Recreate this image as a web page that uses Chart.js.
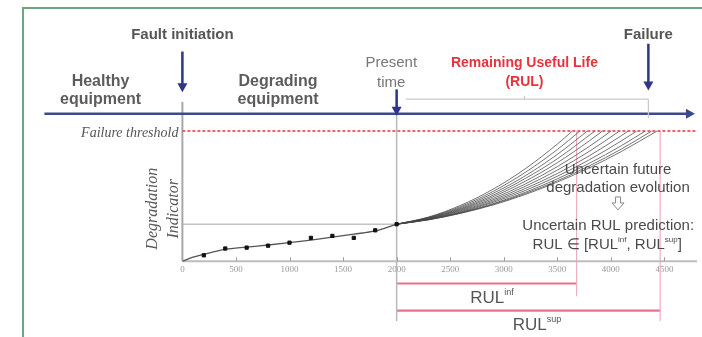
<!DOCTYPE html>
<html>
<head>
<meta charset="utf-8">
<script src="https://cdn.jsdelivr.net/npm/chart.js@4.4.0/dist/chart.umd.min.js"></script>
<style>
  html, body { margin: 0; padding: 0; background: #fff; }
  #wrap { position: relative; width: 702px; height: 337px; }
  #frame { position: absolute; left: 22px; top: 7px; right: 0; bottom: 0;
           border-left: 2px solid #6ea77c; border-top: 2px solid #6ea77c; pointer-events: none; }
</style>
</head>
<body>
<div id="wrap"><canvas id="myChart" width="702" height="337"></canvas><div id="frame"></div></div>
<script>
// Observed degradation indicator (black squares)
var obsTime  = [200, 400, 600, 800, 1000, 1200, 1400, 1600, 1800, 2000];
var obsValue = [0.45, 0.97, 1.04, 1.19, 1.42, 1.79, 1.94, 1.79, 2.37, 2.84];

// Fitted trend up to present time
var fitTime  = [0, 100, 200, 400, 600, 800, 1000, 1200, 1400, 1600, 1800, 2000];
var fitValue = [0, 0.30, 0.52, 0.90, 1.08, 1.24, 1.42, 1.62, 1.85, 2.08, 2.32, 2.84];

// Predicted future trajectories (fan) : values at fanTime, then they hit the threshold at fanEnd
var fanTime = [2000, 2300, 2600, 2900, 3200, 3500, 3800, 4100];
var fanEnd  = [3640, 3710, 3780, 3850, 3920, 4000, 4080, 4160, 4240, 4320, 4380, 4430];
var fanValues = [
  [2.84, 3.40, 4.30, 5.53, 7.10, 9.00],
  [2.84, 3.37, 4.21, 5.36, 6.82, 8.58],
  [2.84, 3.35, 4.13, 5.21, 6.56, 8.21],
  [2.84, 3.32, 4.06, 5.07, 6.35, 7.87],
  [2.84, 3.30, 4.00, 4.95, 6.14, 7.57, 9.26],
  [2.84, 3.28, 3.94, 4.82, 5.93, 7.27, 8.83],
  [2.84, 3.25, 3.88, 4.71, 5.75, 7.00, 8.45],
  [2.84, 3.23, 3.82, 4.61, 5.58, 6.74, 8.11, 9.66],
  [2.84, 3.22, 3.77, 4.52, 5.43, 6.53, 7.80, 9.26],
  [2.84, 3.20, 3.73, 4.42, 5.29, 6.33, 7.53, 8.89],
  [2.84, 3.19, 3.70, 4.37, 5.20, 6.18, 7.33, 8.63],
  [2.84, 3.18, 3.68, 4.32, 5.12, 6.08, 7.18, 8.44]
];

// Key times / levels
var threshold = 10;
var faultTime = 0;
var presentTime = 2000;
var presentValue = 2.84;
var failureTime = 4350;
var rulInf = 3680;
var rulSup = 4460;

// x axis tick labels
var tickValues = [0, 500, 1000, 1500, 2000, 2500, 3000, 3500, 4000, 4500];

var SANS = '"Liberation Sans", Arial, sans-serif';
var SERIF = '"Liberation Serif", "Times New Roman", serif';
var NAVY = '#2f3586';
var RED_LINE = '#e8728c';

function seg(x1, y1, x2, y2) { return [{ x: x1, y: y1 }, { x: x2, y: y2 }]; }

function lineSet(data, color, width, dash) {
  return { type: 'line', data: data, borderColor: color, borderWidth: width,
           borderDash: dash || [], pointRadius: 0, fill: false, tension: 0 };
}

// Chart.js paints dataset 0 last, so the list goes from front to back
var datasets = [];

// observations
datasets.push({ type: 'scatter', data: obsTime.map(function (t, i) { return { x: t, y: obsValue[i] }; }),
                backgroundColor: '#111', borderColor: '#111', pointStyle: 'rect', pointRadius: 2.3 });

// failure threshold
datasets.push(lineSet(seg(faultTime, threshold, 4805, threshold), '#e2363a', 1.5, [3, 2]));

// fitted trend
datasets.push({ type: 'line', data: fitTime.map(function (t, i) { return { x: t, y: fitValue[i] }; }),
                borderColor: '#555', borderWidth: 1.3, pointRadius: 0, fill: false,
                cubicInterpolationMode: 'monotone' });

// fan of future trajectories
fanValues.forEach(function (vals, i) {
  var pts = vals.map(function (v, j) { return { x: fanTime[j], y: v }; });
  pts.push({ x: fanEnd[i], y: threshold });
  datasets.push({ type: 'line', data: pts, borderColor: 'rgba(70,70,70,0.75)', borderWidth: 1,
                  pointRadius: 0, fill: false, cubicInterpolationMode: 'monotone' });
});

// reference lines
datasets.push(lineSet(seg(faultTime, 0, faultTime, 12.25), '#a8a8a8', 2));        // indicator axis
datasets.push(lineSet(seg(faultTime, 0, 4805, 0), '#bdbdbd', 2));                  // time axis
datasets.push(lineSet(seg(faultTime, presentValue, presentTime, presentValue), '#c4c4c4', 1.5));
datasets.push(lineSet(seg(presentTime, 12.6, presentTime, -4.6), '#b8b8b8', 1.5)); // present time
datasets.push(lineSet(seg(rulInf, threshold, rulInf, -2.7), '#eeb0bd', 1.2));
datasets.push(lineSet(seg(rulSup, threshold, rulSup, -4.6), '#eeb0bd', 1.2));
datasets.push(lineSet(seg(presentTime, -1.72, rulInf, -1.72), RED_LINE, 2.2));
datasets.push(lineSet(seg(presentTime, -3.81, rulSup, -3.81), RED_LINE, 2.2));

// text, arrows and brackets
var annotations = {
  id: 'annotations',
  afterDraw: function (chart) {
    var c = chart.ctx, sx = chart.scales.x, sy = chart.scales.y;
    function X(v) { return sx.getPixelForValue(v); }
    function Y(v) { return sy.getPixelForValue(v); }

    function text(str, xv, yv, font, color, align) {
      c.save();
      c.font = font; c.fillStyle = color; c.textAlign = align || 'center'; c.textBaseline = 'middle';
      c.fillText(str, X(xv), Y(yv));
      c.restore();
    }
    // pieces: [text, font, color, raise]
    function rich(pieces, xv, yv, align) {
      c.save();
      c.textBaseline = 'middle';
      var w = 0;
      pieces.forEach(function (p) { c.font = p[1]; w += c.measureText(p[0]).width; });
      var x = X(xv);
      if (align === 'center') x -= w / 2;
      pieces.forEach(function (p) {
        c.font = p[1]; c.fillStyle = p[2]; c.textAlign = 'left';
        c.fillText(p[0], x, Y(yv) - (p[3] || 0));
        x += c.measureText(p[0]).width;
      });
      c.restore();
    }
    function downArrow(xv, y1, y2) {
      var x = X(xv), a = Y(y1), b = Y(y2);
      c.save();
      c.strokeStyle = NAVY; c.fillStyle = NAVY; c.lineWidth = 2.5;
      c.beginPath(); c.moveTo(x, a); c.lineTo(x, b - 7); c.stroke();
      c.beginPath(); c.moveTo(x - 5, b - 9); c.lineTo(x + 5, b - 9); c.lineTo(x, b); c.closePath(); c.fill();
      c.restore();
    }

    // upward tick marks on time axis
    c.save();
    c.strokeStyle = '#a0a0a0'; c.lineWidth = 1;
    sx.ticks.forEach(function (t) {
      var x = Math.round(X(t.value)) + 0.5;
      c.beginPath(); c.moveTo(x, Y(0)); c.lineTo(x, Y(0) - 4); c.stroke();
    });
    c.restore();

    // timeline arrow
    c.save();
    c.strokeStyle = '#3c4a8c'; c.fillStyle = '#3c4a8c'; c.lineWidth = 2.6;
    var ty = Y(11.34), tx0 = X(-1288), tx1 = X(4785);
    c.beginPath(); c.moveTo(tx0, ty); c.lineTo(tx1 - 6, ty); c.stroke();
    c.beginPath(); c.moveTo(tx1, ty); c.lineTo(tx1 - 9, ty - 5); c.lineTo(tx1 - 9, ty + 5); c.closePath(); c.fill();
    c.restore();

    downArrow(faultTime, 16.12, 12.99);
    downArrow(presentTime, 13.21, 11.19);
    downArrow(failureTime, 16.72, 13.13);

    // RUL bracket
    c.save();
    c.strokeStyle = '#c9c9c9'; c.lineWidth = 1.2;
    var by = Y(12.46), bx0 = X(2085), bx1 = X(failureTime), bm = X(3193);
    c.beginPath(); c.moveTo(bx0, by); c.lineTo(bx1, by); c.stroke();
    c.beginPath(); c.moveTo(bm, by); c.lineTo(bm, by - 3); c.stroke();
    c.beginPath(); c.moveTo(bx1, by); c.lineTo(bx1, Y(11.0)); c.stroke();
    c.restore();

    // hollow arrow
    c.save();
    var hx = X(4067), hy = Y(4.4);
    c.strokeStyle = '#8a8a8a'; c.lineWidth = 1;
    c.beginPath();
    c.moveTo(hx - 2.5, hy - 7); c.lineTo(hx + 2.5, hy - 7); c.lineTo(hx + 2.5, hy - 1);
    c.lineTo(hx + 6, hy - 1); c.lineTo(hx, hy + 6); c.lineTo(hx - 6, hy - 1);
    c.lineTo(hx - 2.5, hy - 1); c.closePath(); c.stroke();
    c.restore();

    var B15 = 'bold 15px ' + SANS, B16 = 'bold 16px ' + SANS;
    text('Fault initiation', faultTime, 17.4, B15, '#555');
    text('Failure', failureTime, 17.4, B15, '#555');
    text('Healthy', -764, 13.81, B16, '#5c5c5c');
    text('equipment', -764, 12.39, B16, '#5c5c5c');
    text('Degrading', 893, 13.81, B16, '#5c5c5c');
    text('equipment', 893, 12.39, B16, '#5c5c5c');
    text('Present', 1950, 15.22, '15px ' + SANS, '#777');
    text('time', 1950, 13.73, '15px ' + SANS, '#777');
    text('Remaining Useful Life', 3193, 15.22, 'bold 14px ' + SANS, '#e8323c');
    text('(RUL)', 3193, 13.73, 'bold 14px ' + SANS, '#e8323c');

    text('Failure threshold', -37, 9.85, 'italic 14px ' + SERIF, '#555', 'right');

    // rotated axis title
    c.save();
    c.translate(X(-170), Y(4.03));
    c.rotate(-Math.PI / 2);
    c.font = 'italic 16px ' + SERIF; c.fillStyle = '#5a5a5a'; c.textAlign = 'center'; c.textBaseline = 'middle';
    c.fillText('Degradation', 0, -11);
    c.fillText('Indicator', 0, 10);
    c.restore();

    var F = '15px ' + SANS, S = '8px ' + SANS, G = '#4a4a4a';
    text('Uncertain future', 4067, 7.01, F, G);
    text('degradation evolution', 4067, 5.67, F, G);
    text('Uncertain RUL prediction:', 3975, 2.69, F, G);
    rich([['RUL \u2208 [RUL', F, G], ['inf', S, G, 5], [', RUL', F, G], ['sup', S, G, 5], [']', F, G]],
         3966, 1.27, 'center');

    var L = '17px ' + SANS;
    rich([['RUL', L, '#555'], ['inf', '9px ' + SANS, '#555', 6]], 2687, -2.84, 'left');
    rich([['RUL', L, '#555'], ['sup', '9px ' + SANS, '#555', 6]], 3083, -4.93, 'left');
  }
};

var ctx = document.getElementById('myChart').getContext('2d');
var myChart = new Chart(ctx, {
  type: 'scatter',
  data: { datasets: datasets },
  options: {
    responsive: false,
    devicePixelRatio: 1,
    animation: false,
    layout: { padding: 0 },
    plugins: { legend: { display: false }, tooltip: { enabled: false } },
    scales: {
      x: {
        type: 'linear', min: -1656, max: 4804,
        position: { y: 0 },
        afterBuildTicks: function (s) { s.ticks = tickValues.map(function (v) { return { value: v }; }); },
        grid: { drawOnChartArea: false, drawTicks: false },
        border: { display: false },
        ticks: { padding: 3, color: '#9a9a9a', font: { family: SERIF, size: 9 }, maxRotation: 0, autoSkip: false,
                 callback: function (v) { return String(v); } }
      },
      y: { type: 'linear', min: -5.45, max: 19.7, display: false }
    }
  },
  plugins: [annotations]
});
</script>
</body>
</html>
